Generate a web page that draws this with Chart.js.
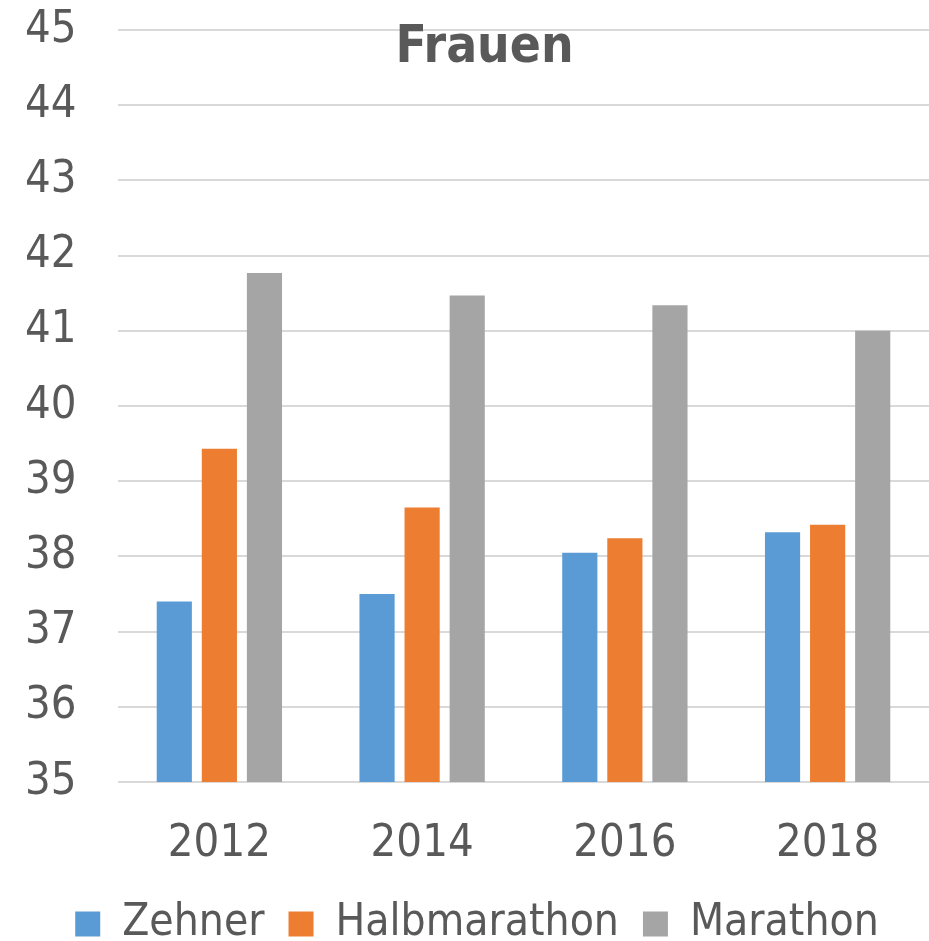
<html>
<head>
	<title>Frauen</title>
	<script src="https://cdn.jsdelivr.net/npm/chart.js@4.4.0/dist/chart.umd.min.js"></script>
	<style>
		html, body {
			margin: 0;
			padding: 0;
			background: #fff;
		}
		#wrap {
			width: 929px;
			height: 941px;
		}
	</style>
</head>
<body>
	<div id="wrap"><canvas id="canvas"></canvas></div>
	<script>
		const years = ['2012', '2014', '2016', '2018'];
		const zehner = [37.4, 37.5, 38.05, 38.32];
		const halbmarathon = [39.43, 38.65, 38.24, 38.42];
		const marathon = [41.77, 41.47, 41.34, 41.0];

		const fontFamily = "'DejaVu Sans Condensed', 'DejaVu Sans', sans-serif";
		const textColor = '#595959';

		// Excel puts the title over the plot area, so draw it ourselves
		const overlayTitle = {
			id: 'overlayTitle',
			afterDraw(chart) {
				const ctx = chart.ctx;
				ctx.save();
				ctx.font = `bold 51px ${fontFamily}`;
				ctx.fillStyle = textColor;
				ctx.textAlign = 'center';
				ctx.textBaseline = 'alphabetic';
				ctx.fillText('Frauen', chart.width / 2 + 20, 62);
				ctx.restore();
			},
		};

		new Chart(document.getElementById('canvas'), {
			type: 'bar',
			data: {
				labels: years,
				datasets: [
					{ label: 'Zehner', data: zehner, backgroundColor: '#5B9BD5' },
					{ label: 'Halbmarathon', data: halbmarathon, backgroundColor: '#ED7D31' },
					{ label: 'Marathon', data: marathon, backgroundColor: '#A5A5A5' },
				],
			},
			plugins: [overlayTitle],
			options: {
				responsive: true,
				maintainAspectRatio: false,
				animation: false,
				categoryPercentage: 0.667,
				barPercentage: 0.78,
				layout: {
					padding: { left: 25, right: 0, top: 30, bottom: -15 },
				},
				scales: {
					x: {
						grid: { display: false },
						border: { display: false },
						afterFit: (scale) => { scale.height = 96; },
						ticks: {
							color: textColor,
							padding: 27,
							font: { family: fontFamily, size: 45 },
						},
					},
					y: {
						min: 35,
						max: 45,
						border: { display: false },
						grid: { color: '#D9D9D9', lineWidth: 2, drawTicks: false },
						afterFit: (scale) => { scale.width = 93; },
						ticks: {
							stepSize: 1,
							color: textColor,
							padding: 0,
							crossAlign: 'far',
							font: { family: fontFamily, size: 45 },
						},
					},
				},
				plugins: {
					legend: {
						position: 'bottom',
						labels: {
							color: textColor,
							boxWidth: 25,
							boxHeight: 25,
							padding: 24,
							font: { family: fontFamily, size: 44 },
						},
					},
					tooltip: { enabled: false },
				},
			},
		});
	</script>
</body>
</html>
